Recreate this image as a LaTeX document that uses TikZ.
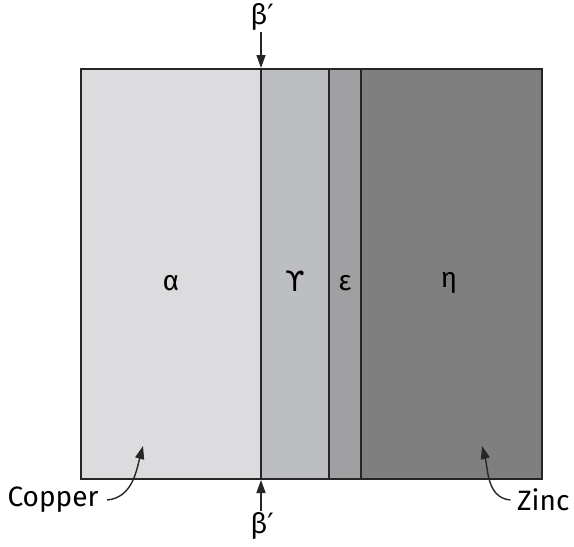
\documentclass[tikz,border=0pt]{standalone}
\usepackage{fontspec}
\setmainfont{Fira Sans}
\newfontfamily\grkfont{DejaVu Sans}
\usetikzlibrary{arrows.meta}

\definecolor{alphagray}{HTML}{DCDCDE}
\definecolor{upsgray}{HTML}{BDBEC1}
\definecolor{epsgray}{HTML}{A0A0A3}
\definecolor{etagray}{HTML}{7F7F80}

\begin{document}
\begin{tikzpicture}[x=0.5pt, y=-0.5pt, line width=0.6pt, >={Triangle[length=6.5pt,width=4.5pt]},
  boundary/.style={draw=black!85},
  phaselabel/.style={font=\fontsize{14}{16}\selectfont},
  sidelabel/.style={font=\fontsize{14}{16}\selectfont, inner sep=0.5pt},
  pointer/.style={->, line width=0.7pt, black!85}]

    \useasboundingbox (0,0) rectangle (574,547);

    % phase layers, copper side to zinc side
    \fill[alphagray] (81,69) rectangle (261,479);
    \fill[upsgray] (261,69) rectangle (329,479);
    \fill[epsgray] (329,69) rectangle (361,479);
    \fill[etagray] (361,69) rectangle (542,479);

    % outline and interfaces
    \draw[boundary] (81,69) rectangle (542,479);
    \draw[boundary] (261,69) -- (261,479);
    \draw[boundary] (329,69) -- (329,479);
    \draw[boundary] (361,69) -- (361,479);

    % phase names
    \node[phaselabel] (alpha) at (171,283) {α};
    \node[phaselabel] (upsilon) at (295,281) {\grkfont ϒ};
    \node[phaselabel] (epsilon) at (345,283) {ε};
    \node[phaselabel] (eta) at (449,283) {η};

    % beta' markers
    \node[sidelabel] (btop) at (262,17) {β{\grkfont ′}};
    \coordinate (btopend) at (261,68);
    \draw[pointer] (btop.south -| btopend) -- (btopend);
    \node[sidelabel] (bbot) at (262,526) {β{\grkfont ′}};
    \coordinate (bbotend) at (261,480);
    \draw[pointer] (bbot.north -| bbotend) -- (bbotend);

    % copper and zinc ends
    \node[sidelabel, anchor=east] (copper) at (100,500) {Copper};
    \coordinate (cu) at (143,446);
    \draw[pointer] (copper.east) ++(7,0) to[out=5, in=-105] (cu);
    \node[sidelabel, anchor=east] (zinc) at (571,500) {Zinc};
    \coordinate (zn) at (482,446);
    \draw[pointer] (zinc.west) ++(-5,0) to[out=175, in=-75] (zn);

\end{tikzpicture}
\end{document}
